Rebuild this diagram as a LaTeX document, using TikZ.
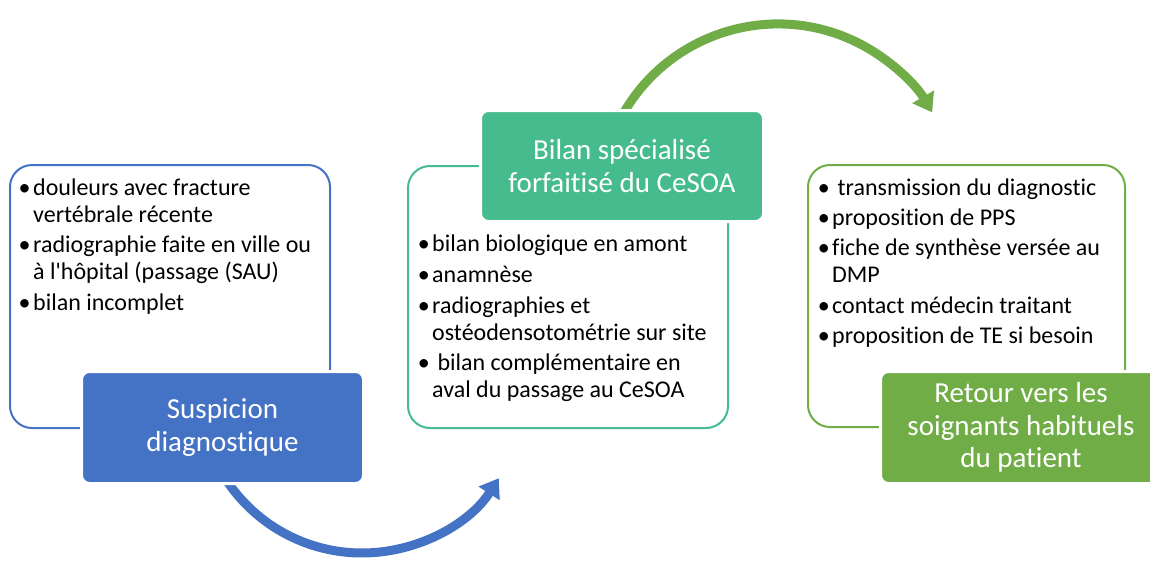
\documentclass[tikz,border=0pt]{standalone}
\usepackage{fontspec}
\setmainfont{Carlito}[Ligatures={TeXOff,CommonOff}]
\usetikzlibrary{arrows.meta}
\definecolor{bluec}{HTML}{4472C4}
\definecolor{tealc}{HTML}{45BB8E}
\definecolor{greenc}{HTML}{70AD47}
\tikzset{
  panel/.style={draw, line width=2pt, rounded corners=22pt, inner sep=0pt},
  headbox/.style={rounded corners=8pt, draw=white, line width=3pt, text=white, inner sep=0pt,
    font=\fontsize{29}{32.5}\selectfont, align=center},
  itm/.style={anchor=base west, inner sep=0pt, font=\fontsize{24}{28}\selectfont},
  bigarrow/.style={line width=9pt, -{Triangle[length=18pt,width=24pt]}},
}
\newcommand{\bul}{\llap{•\hspace{2.5pt}}}
\begin{document}
\begin{tikzpicture}[x=1pt,y=-1pt]
\clip (0,0) rectangle (1150,563);
\fill[white] (0,0) rectangle (1150,563);
% arrows
\coordinate (bs) at (225,478);
\coordinate (gs) at (623,114);
\draw[bigarrow, bluec] (bs) arc[start angle=147.4, end angle=32.7, radius=162.6];
\draw[bigarrow, greenc] (gs) arc[start angle=209.7, end angle=329.7, radius=178.5];
% panels
\node[panel, draw=bluec, minimum width=320pt, minimum height=263pt] (p1) at (170,296.5) {};
\node[panel, draw=tealc, minimum width=320pt, minimum height=262pt] (p2) at (568,297) {};
\node[panel, draw=greenc, minimum width=317pt, minimum height=262pt] (p3) at (966.5,296) {};
% heads
\node[headbox, fill=bluec, minimum width=282pt, minimum height=112pt] (h1) at (222.5,427.5) {Suspicion\\diagnostique};
\node[headbox, fill=tealc, minimum width=283pt, minimum height=111pt] (h2) at (622,166) {Bilan spécialisé\\forfaitisé du CeSOA};
\node[headbox, fill=greenc, minimum width=281pt, minimum height=112pt] (h3) at (1021,427.5) {Retour vers les\\soignants habituels\\du patient};
% panel 1 items
\node[itm] (a1) at (33,195) {\bul douleurs avec fracture};
\node[itm] (a2) at (33,222) {vertébrale récente};
\node[itm] (a3) at (33,252) {\bul radiographie faite en ville ou};
\node[itm] (a4) at (33,279) {à l'hôpital (passage (SAU)};
\node[itm] (a5) at (33,310) {\bul bilan incomplet};
% panel 2 items
\node[itm] (b1) at (432,251) {\bul bilan biologique en amont};
\node[itm] (b2) at (432,282) {\bul anamnèse};
\node[itm] (b3) at (432,313) {\bul radiographies et};
\node[itm] (b4) at (432,340) {ostéodensotométrie sur site};
\node[itm] (b5) at (432,370) {\bul\ bilan complémentaire en};
\node[itm] (b6) at (432,397) {aval du passage au CeSOA};
% panel 3 items
\node[itm] (c1) at (832,195) {\bul\ transmission du diagnostic};
\node[itm] (c2) at (832,225) {\bul proposition de PPS};
\node[itm] (c3) at (832,255) {\bul fiche de synthèse versée au};
\node[itm] (c4) at (832,282) {DMP};
\node[itm] (c5) at (832,313) {\bul contact médecin traitant};
\node[itm] (c6) at (832,343) {\bul proposition de TE si besoin};
\end{tikzpicture}
\end{document}
